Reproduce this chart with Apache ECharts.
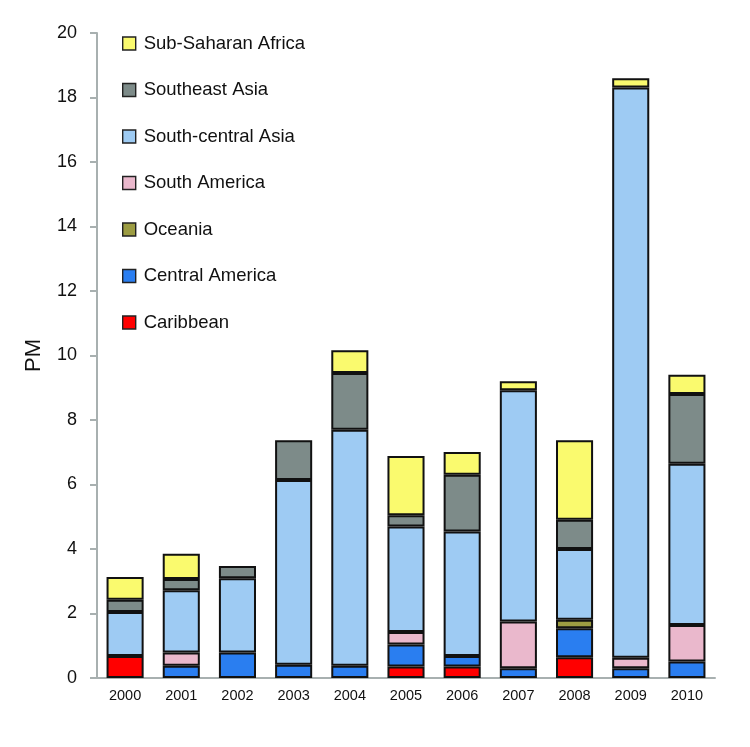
<!DOCTYPE html>
<html>
<head>
<meta charset="utf-8">
<script src="https://cdn.jsdelivr.net/npm/echarts@6/dist/echarts.min.js"></script>
<style>html,body{margin:0;padding:0;background:#fff}#c{width:750px;height:747px}</style>
</head>
<body>
<div id="c"></div>
<script>
var years = ['2000','2001','2002','2003','2004','2005','2006','2007','2008','2009','2010'];
var caribbean       = [0.68, null, null, null, null, 0.36, 0.36, null, 0.64, null, null];
var centralAmerica  = [null, 0.38, 0.79, 0.41, 0.38, 0.68, 0.32, 0.30, 0.90, 0.30, 0.51];
var oceania         = [null, null, null, null, null, null, null, null, 0.27, null, null];
var southAmerica    = [null, 0.41, null, null, null, 0.39, null, 1.45, null, 0.33, 1.13];
var southCentralAsia= [1.37, 1.93, 2.30, 5.73, 7.32, 3.27, 3.86, 7.17, 2.19, 17.68, 5.00];
var southeastAsia   = [0.38, 0.35, 0.38, 1.23, 1.76, 0.35, 1.76, null, 0.91, null, 2.17];
var subSaharanAfrica= [0.70, 0.78, null, null, 0.70, 1.83, 0.71, 0.28, 2.46, 0.29, 0.59];
var yTicks = [0, 2, 4, 6, 8, 10, 12, 14, 16, 18, 20];

var seriesDefs = [
  ['Caribbean', caribbean, '#ff0000'],
  ['Central America', centralAmerica, '#2a7ef0'],
  ['Oceania', oceania, '#9c9c42'],
  ['South America', southAmerica, '#eab8cc'],
  ['South-central Asia', southCentralAsia, '#9ecbf3'],
  ['Southeast Asia', southeastAsia, '#7d8b89'],
  ['Sub-Saharan Africa', subSaharanAfrica, '#fafa6e']
];

var chart = echarts.init(document.getElementById('c'));
var font = 'Liberation Sans, Arial, sans-serif';
chart.setOption({
  animation: false,
  backgroundColor: '#fff',
  grid: { left: 97, right: 35, top: 33, bottom: 69 },
  legend: {
    orient: 'vertical',
    left: 122, top: 34,
    padding: 0,
    icon: 'rect',
    itemWidth: 13, itemHeight: 13,
    itemGap: 27.5,
    data: seriesDefs.map(function(d){return d[0];}).reverse(),
    textStyle: { fontFamily: font, fontSize: 18.5, lineHeight: 18.5, color: '#111', padding: [0,0,0,3] },
    itemStyle: { borderColor: '#222', borderWidth: 1.4 }
  },
  xAxis: {
    type: 'category',
    data: years,
    axisLine: { lineStyle: { color: '#a8b0b0', width: 2 } },
    axisTick: { show: false },
    axisLabel: { fontFamily: font, fontSize: 14.5, color: '#111', margin: 10 }
  },
  yAxis: {
    type: 'value',
    min: 0, max: 20, interval: 2,
    name: 'PM',
    nameLocation: 'middle',
    nameGap: 52,
    nameRotate: 90,
    nameTextStyle: { fontFamily: font, fontSize: 22, color: '#111' },
    axisLine: { show: true, lineStyle: { color: '#a8b0b0', width: 2 } },
    axisTick: { show: true, length: 7, lineStyle: { color: '#a8b0b0', width: 2 } },
    splitLine: { show: false },
    axisLabel: { fontFamily: font, fontSize: 18, color: '#111', margin: 20,
      formatter: function(v){ return yTicks.indexOf(v) >= 0 ? String(v) : ''; } }
  },
  series: seriesDefs.map(function(d){
    return {
      name: d[0], type: 'bar', stack: 'total', data: d[1],
      barCategoryGap: '34%',
      itemStyle: { color: d[2], borderColor: '#111', borderWidth: 2 }
    };
  })
});
</script>
</body>
</html>
